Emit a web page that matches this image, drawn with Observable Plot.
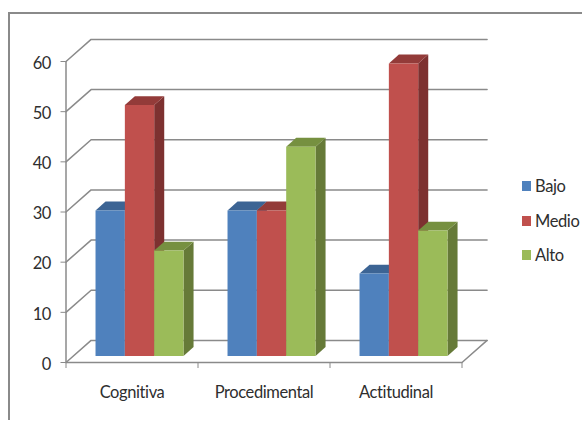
<!DOCTYPE html>
<html lang="es">
<head>
<meta charset="utf-8">
<title>Cognitiva, Procedimental y Actitudinal por nivel</title>
<script src="https://cdn.jsdelivr.net/npm/d3@7"></script>
<script src="https://cdn.jsdelivr.net/npm/@observablehq/plot@0.6"></script>
<style>
  html, body { margin: 0; background: #fff; }
  #chart { position: relative; width: 582px; height: 422px; overflow: hidden; font-family: Lato, sans-serif; color: #2e2e2e; }
  #chart svg { position: absolute; left: 0; top: 0; background: transparent; }
  .outline { position: absolute; left: 8px; top: 12px; right: -4px; bottom: 2px; border-left: 2px solid #8a8a8a; border-top: 2px solid #8a8a8a; }
  .legend { position: absolute; left: 522px; top: 169px; font-size: 16.5px; letter-spacing: -0.4px; line-height: 34.5px; }
  .legend div { display: flex; align-items: center; height: 34.5px; }
  .legend i { width: 9px; height: 10px; margin-right: 4px; display: block; }
</style>
</head>
<body>
<div id="chart"><div class="outline"></div></div>
<script>
// Percentages by dimension and level
const categories = ["Cognitiva", "Procedimental", "Actitudinal"];
const bajo = [29, 29, 16.4];
const medio = [50, 29, 58.3];
const alto = [21, 41.7, 25];
const seriesNames = ["Bajo", "Medio", "Alto"];
const seriesValues = [bajo, medio, alto];
const yTicks = [0, 10, 20, 30, 40, 50, 60];

// Face colours of each series: front, top, side
const frontColors = ["#4f81bd", "#c0504d", "#9bbb59"];
const topColors = ["#3c6494", "#933b39", "#769040"];
const sideColors = ["#3a5f8b", "#7d3130", "#667a38"];

// Oblique projection of the chart's depth axis onto x and y units
const depthX = 0.19;
const depthY = 4.4;
const project = (x, y, d) => ({x: x + d * depthX, y: y + d * depthY});

// Bars fill two thirds of a category and span the middle of the floor's depth
const barWidth = 2 / 9;
const gap = 1 / 6;
const nearDepth = 0.3;
const farDepth = 0.7;

const faces = [];
categories.forEach((category, c) => {
  seriesValues.forEach((values, s) => {
    const x0 = c + gap + s * barWidth;
    const x1 = x0 + barWidth;
    const v = values[c];
    const face = (name, fill, corners) => corners.forEach(([x, y, d]) =>
      faces.push({id: `${category}-${s}-${name}`, fill, ...project(x, y, d)}));
    face("side", sideColors[s], [[x1, 0, nearDepth], [x1, 0, farDepth], [x1, v, farDepth], [x1, v, nearDepth]]);
    face("top", topColors[s], [[x0, v, nearDepth], [x1, v, nearDepth], [x1, v, farDepth], [x0, v, farDepth]]);
    face("front", frontColors[s], [[x0, 0, nearDepth], [x1, 0, nearDepth], [x1, v, nearDepth], [x0, v, nearDepth]]);
  });
});

// Wall gridlines: each one runs from the value axis back, then across the wall
const grid = yTicks.flatMap((t) => [
  {t, ...project(0, t, 0)},
  {t, ...project(0, t, 1)},
  {t, ...project(categories.length, t, 1)}
]);
// Floor edges: front edge and right-hand diagonal
const floorEdge = [
  project(0, 0, 0),
  project(categories.length, 0, 0),
  project(categories.length, 0, 1)
];

const axisColor = "#8a8a8a";
const textColor = "#2e2e2e";
const plot = Plot.plot({
  width: 582,
  height: 422,
  marginLeft: 65.5,
  marginRight: 120.5,
  marginTop: 61,
  marginBottom: 60,
  style: {fontFamily: "Lato, sans-serif", fontSize: "16.5px", letterSpacing: "-0.4px", color: textColor},
  x: {type: "linear", domain: [0, categories.length]},
  y: {domain: [0, 60]},
  color: {type: "identity"},
  marks: [
    Plot.line(grid, {x: "x", y: "y", z: "t", stroke: axisColor, strokeWidth: 1.5}),
    Plot.line(floorEdge, {x: "x", y: "y", stroke: axisColor, strokeWidth: 1.5}),
    Plot.ruleX([0], {y1: 0, y2: 60, stroke: axisColor, strokeWidth: 1.5}),
    Plot.line(faces, {x: "x", y: "y", z: "id", fill: "fill", stroke: "none"}),
    Plot.axisY({ticks: yTicks, tickSize: 5, stroke: axisColor, tickFormat: () => "", label: null}),
    Plot.axisY({ticks: yTicks, tickSize: 0, tickPadding: 15, dy: 2, label: null, fill: textColor}),
    Plot.axisX({ticks: d3.range(categories.length + 1), tickSize: 6, stroke: axisColor, tickFormat: () => "", label: null}),
    Plot.axisX({
      ticks: categories.map((_, i) => i + 0.5),
      tickSize: 0,
      tickPadding: 24,
      tickFormat: (d) => categories[Math.floor(d)],
      label: null,
      fill: textColor
    })
  ]
});

const chart = document.getElementById("chart");
chart.appendChild(plot);

// Legend to the right of the plot
const legend = document.createElement("div");
legend.className = "legend";
seriesNames.forEach((name, s) => {
  const row = document.createElement("div");
  const swatch = document.createElement("i");
  swatch.style.background = frontColors[s];
  row.append(swatch, document.createTextNode(name));
  legend.appendChild(row);
});
chart.appendChild(legend);
</script>
</body>
</html>
